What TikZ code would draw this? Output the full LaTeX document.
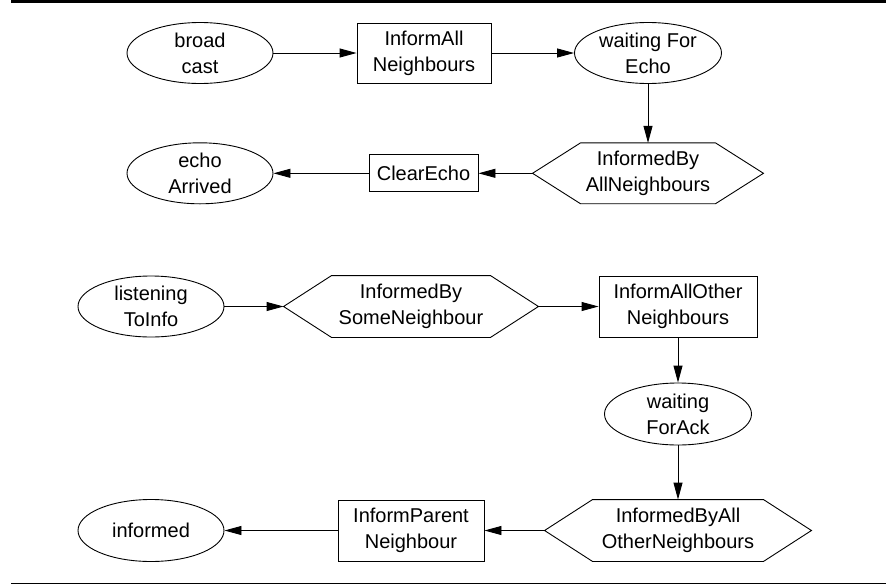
\documentclass[tikz,border=0pt]{standalone}
\usepackage{fontspec}
\setmainfont{Liberation Sans}
\usetikzlibrary{arrows.meta,shapes.geometric}
\tikzset{
  base/.style={draw, line width=0.9pt, inner sep=0pt, align=center,
    font=\fontsize{20}{26}\selectfont},
  stateell/.style={base, ellipse, minimum width=146pt, minimum height=61pt},
  actbox/.style={base, rectangle, minimum height=60pt},
  condhex/.style={base, draw=none, rectangle, minimum height=61pt},
  hexline/.style={line width=0.9pt, line join=miter},
  conn/.style={line width=0.9pt, -{Triangle[length=17pt,width=9pt]}},
  rulethick/.style={line width=2.5pt},
  rulethin/.style={line width=1pt},
}
\begin{document}
\begin{tikzpicture}[x=1pt,y=-1pt]
\useasboundingbox (0,0) rectangle (886,584);
% rules
\coordinate (tl) at (11,1.25);
\coordinate (tr) at (886,1.25);
\coordinate (bl) at (11,583);
\coordinate (br) at (886,583);
\draw[rulethick] (tl) -- (tr);
\draw[rulethin] (bl) -- (br);

% upper graph
\node[stateell] (bc) at (200,53) {broad\\cast};
\node[actbox, minimum width=134pt] (ian) at (424,53) {InformAll\\Neighbours};
\node[stateell, minimum width=147pt] (wfe) at (648,53) {waiting For\\Echo};
\node[condhex, minimum width=230pt, minimum height=60pt] (ibn) at (648,173.3) {InformedBy\\AllNeighbours};
\node[actbox, minimum width=109pt, minimum height=37pt] (ce) at (423.5,173.3) {ClearEcho};
\node[stateell] (ea) at (200,173.3) {echo\\Arrived};

% lower graph
\node[stateell] (lti) at (151,306.5) {listening\\ToInfo};
\node[condhex, minimum width=254pt] (isn) at (411,306.5) {InformedBy\\SomeNeighbour};
\node[actbox, minimum width=158pt, minimum height=61pt] (iaon) at (678,306.5) {InformAllOther\\Neighbours};
\node[stateell, minimum width=147pt, minimum height=62pt] (wfa) at (678,414) {waiting\\ForAck};
\node[condhex, minimum width=266pt] (ibaon) at (678,530.5) {InformedByAll\\OtherNeighbours};
\node[actbox, minimum width=146pt, minimum height=61pt] (ipn) at (411,530.5) {InformParent\\Neighbour};
\node[stateell, minimum height=62pt] (inf) at (151,530.5) {informed};

% hexagon outlines
\foreach \h in {ibn,isn,ibaon}{
  \draw[hexline] (\h.west) -- ([xshift=48pt]\h.north west) -- ([xshift=-48pt]\h.north east)
    -- (\h.east) -- ([xshift=-48pt]\h.south east) -- ([xshift=48pt]\h.south west) -- cycle;
}

% connectors
\draw[conn] (bc) -- (ian);
\draw[conn] (ian) -- (wfe);
\draw[conn] (wfe) -- (ibn);
\draw[conn] (ibn.west) -- (ce);
\draw[conn] (ce) -- (ea);
\draw[conn] (lti) -- (isn.west);
\draw[conn] (isn.east) -- (iaon);
\draw[conn] (iaon) -- (wfa);
\draw[conn] (wfa) -- (ibaon.north);
\draw[conn] (ibaon.west) -- (ipn);
\draw[conn] (ipn) -- (inf);
\end{tikzpicture}
\end{document}
